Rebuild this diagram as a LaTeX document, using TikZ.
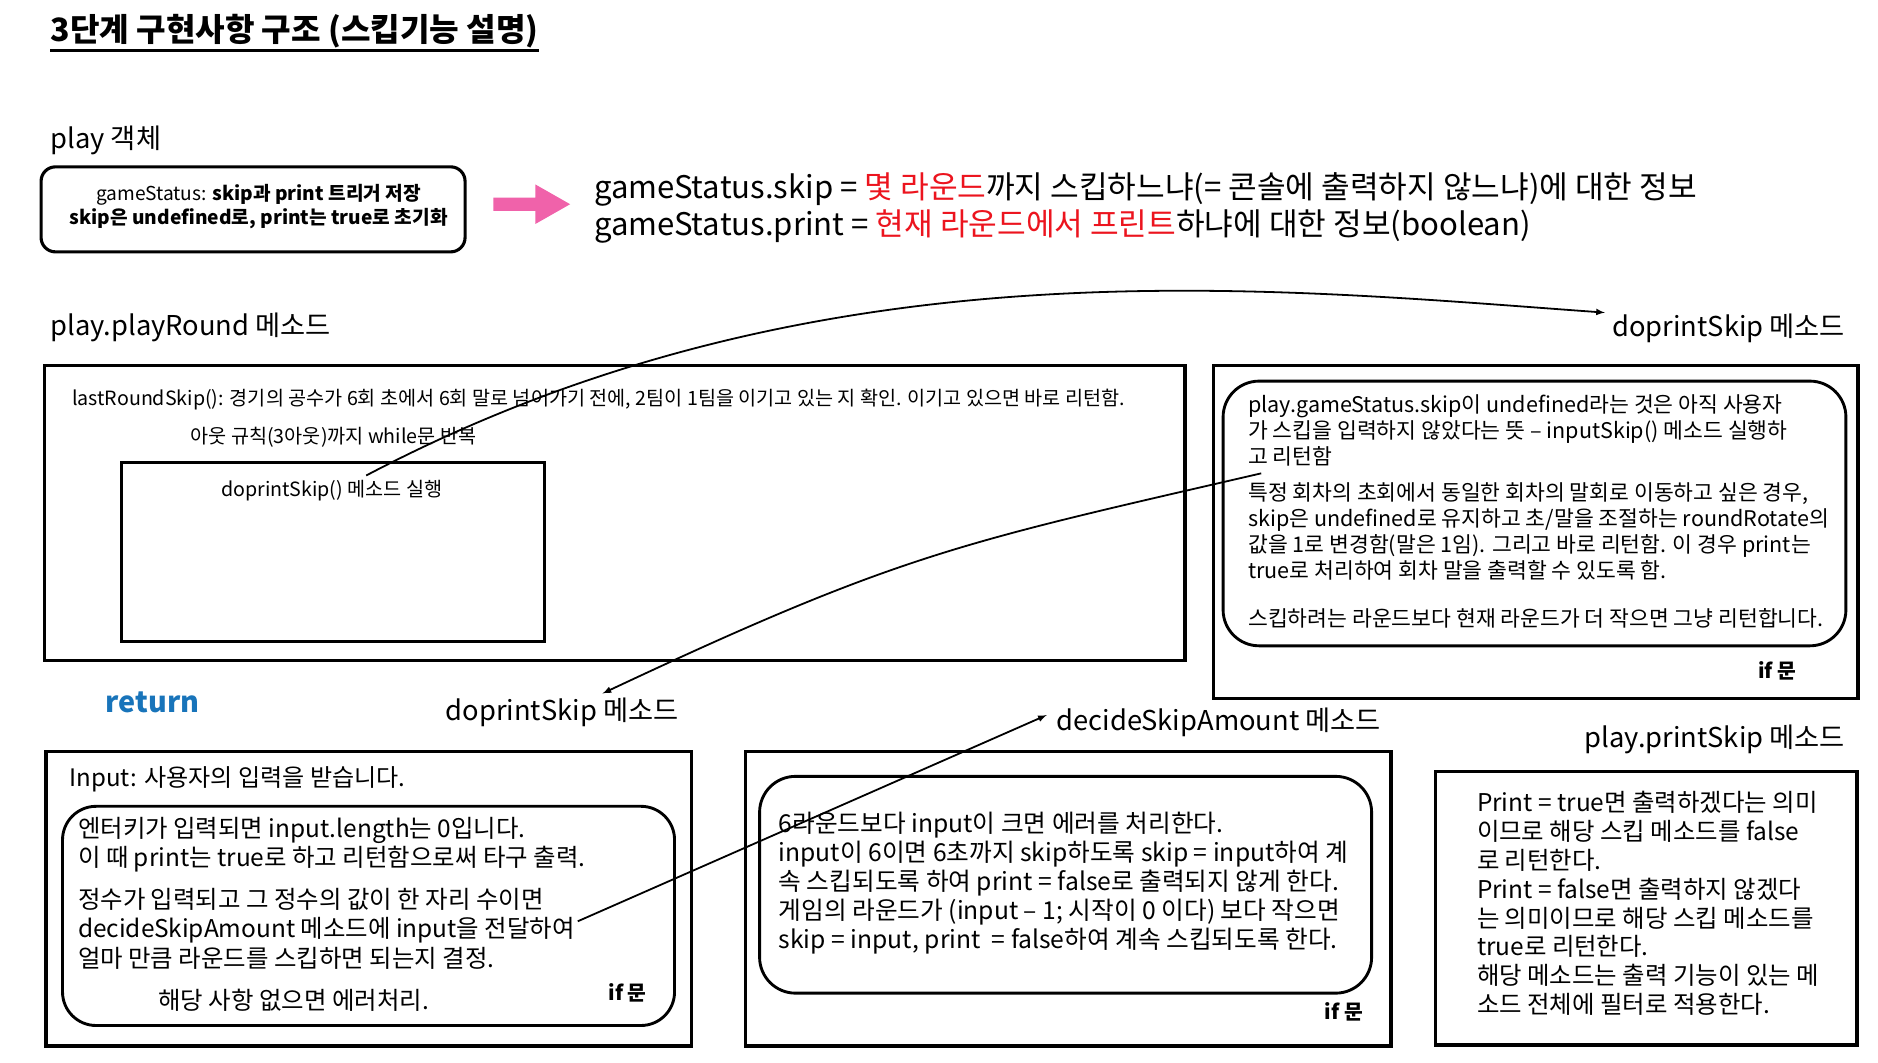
\documentclass[tikz,border=0pt]{standalone}
\usepackage{fontspec}
\setmainfont{Noto Sans CJK KR}

\definecolor{pinkA}{RGB}{240,98,170}
\definecolor{redT}{RGB}{236,20,30}
\definecolor{blueR}{RGB}{24,116,186}

\tikzset{
  outerbox/.style={draw, line width=2.8pt, anchor=north west, inner sep=0pt},
  roundbox/.style={draw, line width=2.4pt, rounded corners=28pt, anchor=north west, inner sep=0pt},
  lbl/.style={anchor=west, inner sep=0pt, font=\fontsize{22.8}{26}\selectfont},
  txt/.style={anchor=north west, inner sep=0pt, align=left},
  ifmark/.style={inner sep=0pt, font=\bfseries\fontsize{17}{20}\selectfont},
  link/.style={-latex, line width=1.5pt},
}

\begin{document}
\begin{tikzpicture}[x=1pt, y=-1pt]
\useasboundingbox[fill=white] (0,0) rectangle (1568,887);

% title
\node[anchor=west, inner sep=0pt, font=\bfseries\fontsize{26.8}{30}\selectfont] (title) at (42,26) {3단계 구현사항 구조 (스킵기능 설명)};
\draw[line width=2.2pt] ([yshift=-2pt]title.south west) -- ([yshift=-2pt]title.south east);

% play object
\node[lbl] (playLbl) at (42,117) {play 객체};
\node[roundbox, rounded corners=12pt, line width=2.6pt, minimum width=354pt, minimum height=71pt] (playBox) at (33,138) {};
\node[align=center, inner sep=0pt, font=\fontsize{16}{19.5}\selectfont] (playTxt) at (216,172.5) {gameStatus: \textbf{skip과 print 트리거 저장}\\\textbf{skip은 undefined로, print는 true로 초기화}};
\fill[pinkA] (412,165) -- (447,165) -- (447,154) -- (476,170.5) -- (447,187) -- (447,176) -- (412,176) -- cycle;
\node[txt, font=\fontsize{26}{30.5}\selectfont] (statusTxt) at (496,144) {gameStatus.skip = \textcolor{redT}{몇 라운드}까지 스킵하느냐(= 콘솔에 출력하지 않느냐)에 대한 정보\\gameStatus.print = \textcolor{redT}{현재 라운드에서 프린트}하냐에 대한 정보(boolean)};

% playRound
\node[lbl] (roundLbl) at (42,273) {play.playRound 메소드};
\node[outerbox, minimum width=952pt, minimum height=246pt] (roundBox) at (36,304) {};
\node[anchor=west, inner sep=0pt, font=\fontsize{16.4}{19}\selectfont] (lastTxt) at (60,334) {lastRoundSkip(): 경기의 공수가 6회 초에서 6회 말로 넘어가기 전에, 2팀이 1팀을 이기고 있는 지 확인. 이기고 있으면 바로 리턴함.};
\node[anchor=west, inner sep=0pt, font=\fontsize{16.4}{19}\selectfont] (whileTxt) at (159,365) {아웃 규칙(3아웃)까지 while문 반복};
\node[outerbox, line width=2.5pt, minimum width=353pt, minimum height=149pt] (loopBox) at (100,385) {};
\node[inner sep=0pt, font=\fontsize{16.4}{19}\selectfont] (loopTxt) at (277,410) {doprintSkip() 메소드 실행};

% doprintSkip, right
\node[lbl] (skipLbl) at (1346,274) {doprintSkip 메소드};
\node[outerbox, minimum width=538pt, minimum height=278pt] (skipBox) at (1012,304) {};
\node[roundbox, rounded corners=30pt, minimum width=520pt, minimum height=221pt] (skipIn) at (1020,317) {};
\node[txt, font=\fontsize{18}{21.7}\selectfont] (skipTxt) at (1042,329) {play.gameStatus.skip이 undefined라는 것은 아직 사용자\\가 스킵을 입력하지 않았다는 뜻 – inputSkip() 메소드 실행하\\고 리턴함\\[9pt]특정 회차의 초회에서 동일한 회차의 말회로 이동하고 싶은 경우,\\skip은 undefined로 유지하고 초/말을 조절하는 roundRotate의\\값을 1로 변경함(말은 1임). 그리고 바로 리턴함. 이 경우 print는\\true로 처리하여 회차 말을 출력할 수 있도록 함.\\[18pt]스킵하려는 라운드보다 현재 라운드가 더 작으면 그냥 리턴합니다.};
\node[ifmark] (skipIf) at (1484,560) {if 문};

% doprintSkip, input
\node[anchor=west, inner sep=0pt, text=blueR, font=\bfseries\fontsize{24}{28}\selectfont] (retLbl) at (88,586) {return};
\node[lbl] (inputLbl) at (372,595) {doprintSkip 메소드};
\node[outerbox, minimum width=539pt, minimum height=246pt] (inputBox) at (37,626) {};
\node[anchor=west, inner sep=0pt, font=\fontsize{20.1}{23}\selectfont] (inputHead) at (58,651) {Input: 사용자의 입력을 받습니다.};
\node[roundbox, minimum width=511pt, minimum height=183pt] (inputIn) at (51,672) {};
\node[txt, font=\fontsize{20.4}{24.5}\selectfont] (inputTxt) at (65,682) {엔터키가 입력되면 input.length는 0입니다.\\이 때 print는 true로 하고 리턴함으로써 타구 출력.\\[10.5pt]정수가 입력되고 그 정수의 값이 한 자리 수이면\\decideSkipAmount 메소드에 input을 전달하여\\얼마 만큼 라운드를 스킵하면 되는지 결정.};
\node[anchor=west, inner sep=0pt, font=\fontsize{20.4}{23}\selectfont] (errTxt) at (132,835) {해당 사항 없으면 에러처리.};
\node[ifmark] (inputIf) at (524,829) {if 문};

% decideSkipAmount
\node[lbl] (decLbl) at (882,603) {decideSkipAmount 메소드};
\node[outerbox, minimum width=539pt, minimum height=246pt] (decBox) at (621,626) {};
\node[roundbox, rounded corners=30pt, minimum width=511pt, minimum height=181pt] (decIn) at (633,647) {};
\node[txt, font=\fontsize{20.6}{24.2}\selectfont] (decTxt) at (650,678) {6라운드보다 input이 크면 에러를 처리한다.\\input이 6이면 6초까지 skip하도록 skip = input하여 계\\속 스킵되도록 하여 print = false로 출력되지 않게 한다.\\게임의 라운드가 (input – 1; 시작이 0 이다) 보다 작으면\\skip = input, print\ \ = false하여 계속 스킵되도록 한다.};
\node[ifmark] (decIf) at (1122,845) {if 문};

% printSkip
\node[lbl] (printLbl) at (1323,617) {play.printSkip 메소드};
\node[outerbox, minimum width=352pt, minimum height=228pt] (printBox) at (1197,643) {};
\node[txt, font=\fontsize{20.4}{24.1}\selectfont] (printTxt) at (1233,660.5) {Print = true면 출력하겠다는 의미\\이므로 해당 스킵 메소드를 false\\로 리턴한다.\\Print = false면 출력하지 않겠다\\는 의미이므로 해당 스킵 메소드를\\true로 리턴한다.\\해당 메소드는 출력 기능이 있는 메\\소드 전체에 필터로 적용한다.};

% links
\draw[link] ([xshift=28pt,yshift=-12pt]loopBox.north) .. controls (680,200) and (1050,240) .. ([xshift=-6pt,yshift=13pt]skipLbl.west);
\draw[link] ([xshift=33pt,yshift=33.5pt]skipIn.west) .. controls (803,453) and (753,461.5) .. ([xshift=131pt,yshift=16pt]inputLbl.west);
\draw[link] ([xshift=-82pt,yshift=-4.5pt]inputIn.east) -- ([xshift=-8pt,yshift=6pt]decLbl.west);
\end{tikzpicture}
\end{document}
